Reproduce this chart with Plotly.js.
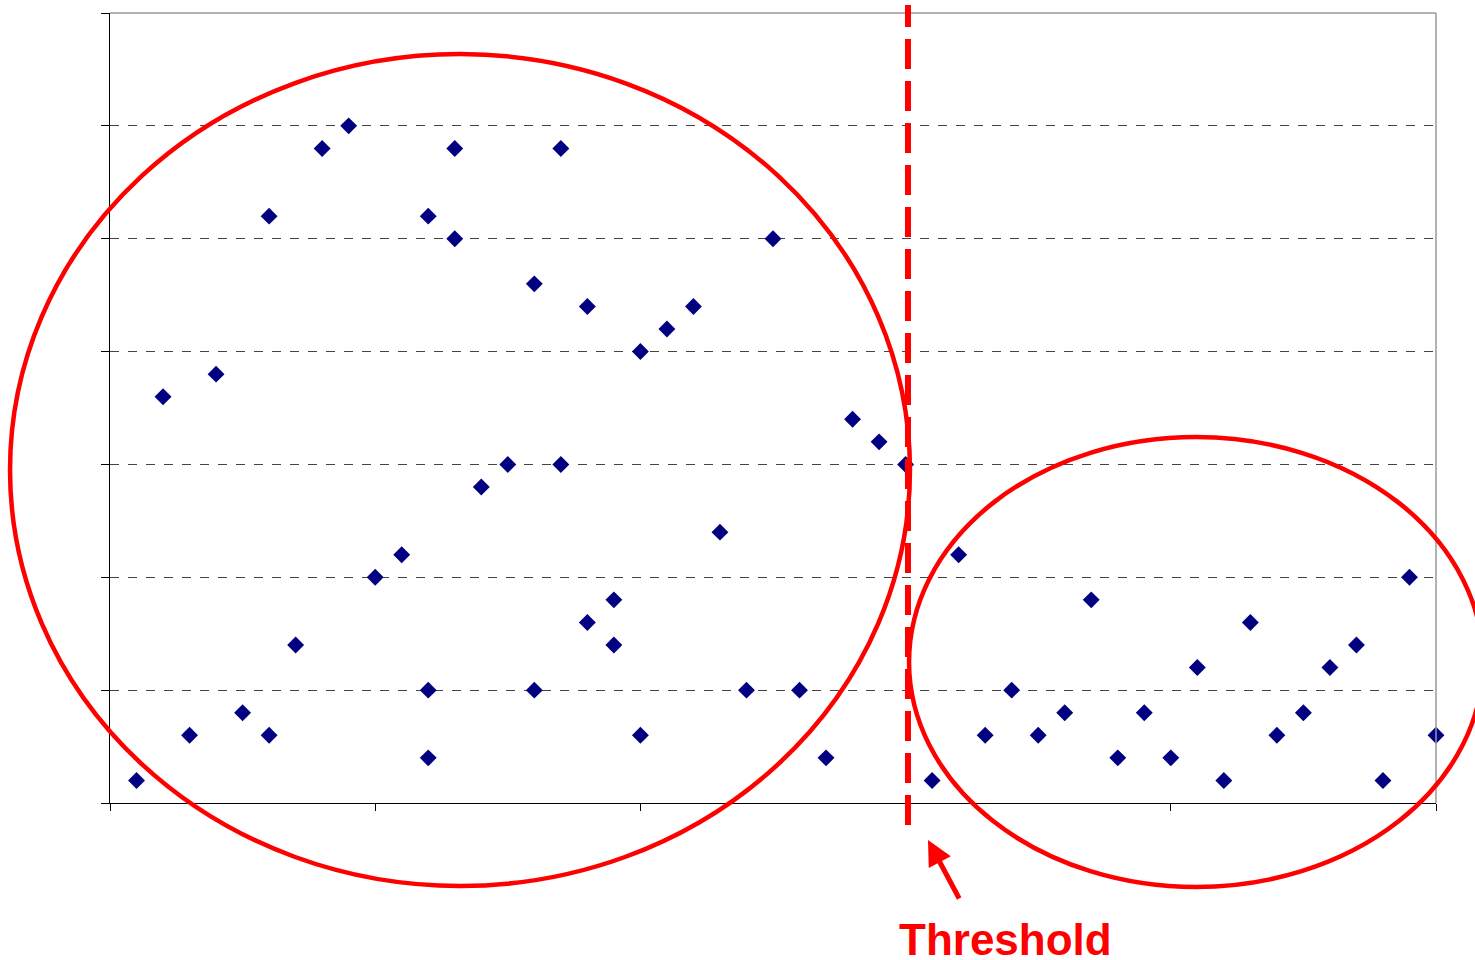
<!DOCTYPE html>
<html>
<head>
<script src="https://cdn.plot.ly/plotly-3.0.1.min.js"></script>
<style>body{margin:0;background:#fff}</style>
</head>
<body>
<div id="chart" style="width:1475px;height:960px"></div>
<script>
// Point positions
var xValues = [1,2,3,4,5,6,6,7,8,9,10,11,12,12,12,13,13,14,15,16,16,17,17,18,18,19,19,20,20,21,22,23,24,25,26,27,28,29,30,
  31,32,33,34,35,36,37,38,39,40,41,42,43,44,45,46,47,48,49,50];
var yValues = [0.2,3.6,0.6,3.8,0.8,5.2,0.6,1.4,5.8,6.0,2.0,2.2,5.2,1.0,0.4,5.8,5.0,2.8,3.0,4.6,1.0,5.8,3.0,4.4,1.6,1.8,1.4,4.0,0.6,4.2,4.4,2.4,1.0,5.0,1.0,0.4,3.4,3.2,3.0,
  0.2,2.2,0.6,1.0,0.6,0.8,1.8,0.4,0.8,0.4,1.2,0.2,1.6,0.6,0.8,1.2,1.4,0.2,2.0,0.6];

var red = '#ff0000';

Plotly.newPlot('chart', [{
  x: xValues, y: yValues, type: 'scatter', mode: 'markers',
  marker: {symbol: 'diamond', color: '#000080', size: 13},
  cliponaxis: false
}], {
  width: 1475, height: 960,
  margin: {l: 110, r: 39, t: 13, b: 157},
  paper_bgcolor: '#fff', plot_bgcolor: '#fff',
  showlegend: false,
  xaxis: {range: [0, 50], dtick: 10, ticks: 'outside', ticklen: 7, tickcolor: '#000',
    showticklabels: false, showgrid: false, zeroline: false,
    showline: true, linecolor: '#000', mirror: false},
  yaxis: {range: [0, 7], dtick: 1, ticks: 'outside', ticklen: 8, tickcolor: '#000',
    showticklabels: false, showgrid: true, gridcolor: '#444', griddash: 'dash', gridwidth: 1,
    zeroline: false, showline: true, linecolor: '#000'},
  shapes: [
    {type: 'line', xref: 'paper', yref: 'paper', x0: 0, x1: 1, y0: 1, y1: 1, line: {color: '#999', width: 1.5}},
    {type: 'line', xref: 'paper', yref: 'paper', x0: 1, x1: 1, y0: 0, y1: 1, line: {color: '#999', width: 1.5}},
    {type: 'circle', xref: 'paper', yref: 'paper', x0: -0.0754, x1: 0.6033, y0: -0.105, y1: 0.948,
      line: {color: red, width: 4.5}},
    {type: 'circle', xref: 'paper', yref: 'paper', x0: 0.6026, x1: 1.0354, y0: -0.1063, y1: 0.4633,
      line: {color: red, width: 4.5}},
    {type: 'line', xref: 'paper', yref: 'paper', x0: 0.6018, x1: 0.6018, y0: -0.028, y1: 1.01,
      line: {color: red, width: 6, dash: '30px,12px'}}
  ],
  annotations: [
    {xref: 'paper', yref: 'paper', x: 0.6169, y: -0.0468, text: '', showarrow: true,
      arrowhead: 2, arrowsize: 1, arrowwidth: 5, arrowcolor: red, ax: 32, ay: 60},
    {xref: 'paper', yref: 'paper', x: 0.675, y: -0.173, xanchor: 'center', yanchor: 'middle',
      text: '<b>Threshold</b>', showarrow: false,
      font: {family: 'Liberation Sans, Arial', size: 44, color: red}}
  ]
}, {displayModeBar: false});
</script>
</body>
</html>
